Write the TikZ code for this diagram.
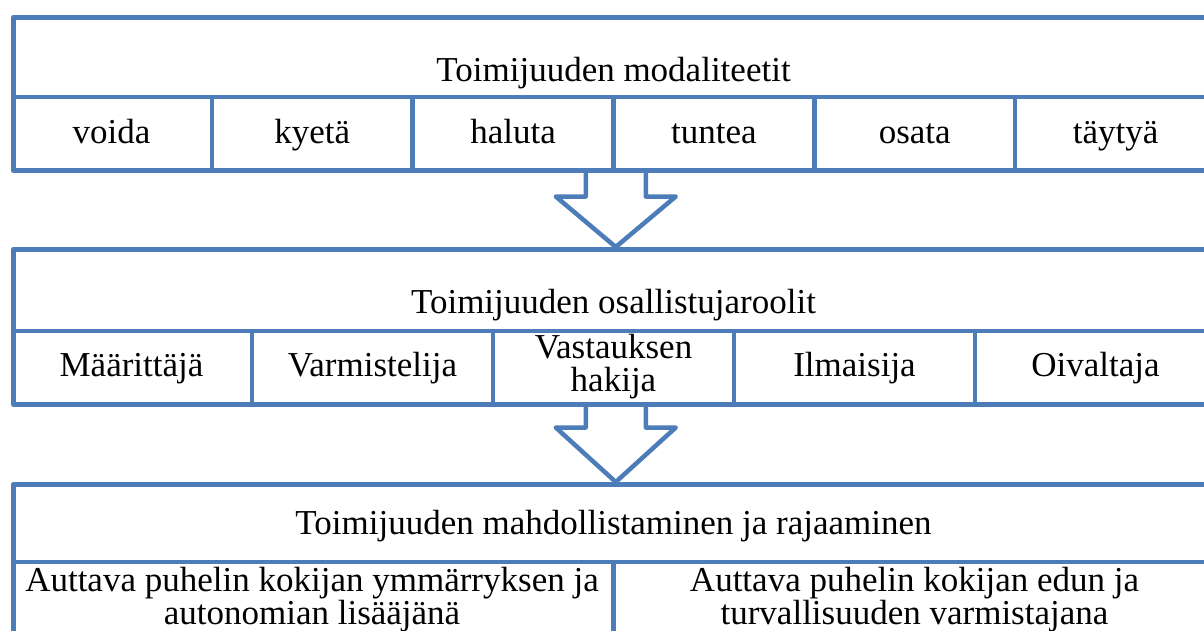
\documentclass[tikz,border=0pt]{standalone}
\usepackage{fontspec}
\setmainfont{Liberation Serif}
\usetikzlibrary{calc}
\definecolor{frameblue}{RGB}{77,125,185}
\begin{document}
\begin{tikzpicture}[x=1pt,y=-1pt,
  frame/.style={draw=frameblue, line width=4.5pt, line join=round, line cap=round},
  divider/.style={frame, line cap=butt},
  boxnode/.style={frame, anchor=north west, inner sep=0pt, minimum width=1205pt},
  lbl/.style={anchor=base, inner sep=0pt, font=\fontsize{35}{32.5}\selectfont, align=center}]
\useasboundingbox (0,0) rectangle (1204,630);
\clip (0,0) rectangle (1204,630);
% ---------- box 1 ----------
\node[boxnode, minimum height=153pt] (box1) at (11,15) {};
\draw[divider] (11,97) -- (1216,97);
\foreach \x in {211.8,412.7,613.5,814.3,1015.2} \draw[divider] (\x,97) -- (\x,168);
\node[lbl] (h1) at (613.5,81) {Toimijuuden modaliteetit};
\node[lbl] (m1) at (111.4,143) {voida};
\node[lbl] (m2) at (312.2,143) {kyetä};
\node[lbl] (m3) at (513.1,143) {haluta};
\node[lbl] (m4) at (713.9,143) {tuntea};
\node[lbl] (m5) at (914.7,143) {osata};
\node[lbl] (m6) at (1115.6,143) {täytyä};
% ---------- box 2 ----------
\node[boxnode, minimum height=155pt] (box2) at (11,247) {};
\draw[divider] (11,331) -- (1216,331);
\foreach \x in {252,493,734,975} \draw[divider] (\x,331) -- (\x,402);
\node[lbl] (h2) at (613.5,313) {Toimijuuden osallistujaroolit};
\node[lbl] (r1) at (131.5,376) {Määrittäjä};
\node[lbl] (r2) at (372.5,376) {Varmistelija};
\node[lbl] (r3) at (613.5,391) {Vastauksen\\hakija};
\node[lbl] (r4) at (854.5,376) {Ilmaisija};
\node[lbl] (r5) at (1095.5,376) {Oivaltaja};
% ---------- box 3 ----------
\node[boxnode, minimum height=200pt] (box3) at (11,482) {};
\draw[divider] (11,562) -- (1216,562);
\draw[divider] (613.5,562) -- (613.5,700);
\node[lbl] (h3) at (613.5,534) {Toimijuuden mahdollistaminen ja rajaaminen};
\node[lbl] (e1) at (312,624) {Auttava puhelin kokijan ymmärryksen ja\\autonomian lisääjänä};
\node[lbl] (e2) at (914.5,624) {Auttava puhelin kokijan edun ja\\turvallisuuden varmistajana};
% ---------- arrows ----------
\draw[frame] ($(box1.south)+(-30,0)$) |- ($(box1.south)+(-60,24)$) -- (box2.north)
  -- ($(box1.south)+(60,24)$) -| ($(box1.south)+(30,0)$);
\draw[frame] ($(box2.south)+(-30,0)$) |- ($(box2.south)+(-60,21)$) -- (box3.north)
  -- ($(box2.south)+(60,21)$) -| ($(box2.south)+(30,0)$);
\end{tikzpicture}
\end{document}
